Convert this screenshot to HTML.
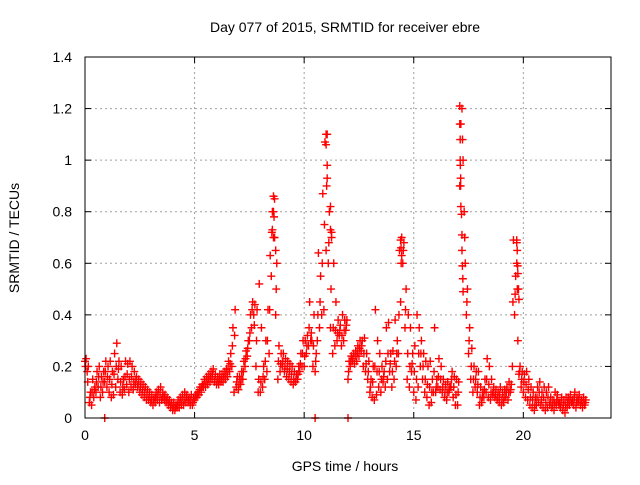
<!DOCTYPE html>
<html><head><meta charset="utf-8"><style>
body{margin:0;background:#fff}
svg text{font-family:"Liberation Sans",sans-serif;font-size:14px;fill:#000}
</style></head><body>
<svg id="c" width="640" height="480">
<text x="345" y="32" text-anchor="middle">Day 077 of 2015, SRMTID for receiver ebre</text>
<text x="345" y="471" text-anchor="middle">GPS time / hours</text>
<text transform="translate(19,238) rotate(-90)" text-anchor="middle">SRMTID / TECUs</text>
<g id="grid"></g><g id="pts"></g>
<rect x="85" y="57" width="526" height="361" fill="none" stroke="#000"/>
</svg>
<script>
const xTicks=[0,5,10,15,20];
const yTicks=[0,0.2,0.4,0.6,0.8,1,1.2,1.4];
const yTickLabels=["0","0.2","0.4","0.6","0.8","1","1.2","1.4"];
const v1=[.22,.18,.06,.05,.08,.10,.12,.08,.10,.14,.12,.10,.08,.09,.12,.15,.10,.09,.11,.13,.10,.12,.11,.13,.12,.10,.09,.08,.07,.07,.06,.05,.06,.07,.06,.07,.08,.06,.05,.04,.03,.03,.04,.04,.05,.05,.06,.06,.05,.05,.07,.08,.09,.10,.12,.12,.13,.14,.15,.14,.13,.13,.14,.14,.15,.16,.18,.20,.10,.12,.11,.13,.15,.20,.24,.30,.35,.40,.20,.10,.10,.12,.15,.18,.25,.55,.70,.40,.15,.18,.20,.18,.16,.15,.14,.13,.14,.15,.18,.20,.20,.25,.28,.30,.20,.18,.30,.35,.40,.42,.65,.60,.35,.25,.28,.30,.32,.28,.30,.34,.15,.20,.22,.21,.22,.24,.26,.20,.18,.15,.10,.08,.07,.09,.12,.10,.14,.12,.15,.18,.12,.15,.20,.25,.45,.60,.35,.15,.12,.18,.10,.07,.12,.20,.15,.10,.08,.05,.06,.10,.10,.12,.11,.10,.08,.07,.10,.12,.08,.05,.05,.90,1.2,.80,.40,.25,.15,.10,.12,.10,.05,.06,.08,.10,.08,.07,.09,.08,.07,.06,.05,.06,.08,.07,.10,.20,.40,.60,.17,.12,.10,.08,.07,.05,.04,.03,.05,.06,.05,.04,.03,.04,.05,.04,.03,.05,.06,.04,.03,.02,.04,.05,.06,.05,.04,.06,.05,.04,.05];
const v2=[.23,.20,.10,.15,.12,.18,.20,.16,.18,.22,.20,.22,.18,.25,.29,.22,.20,.15,.22,.21,.22,.20,.18,.16,.15,.14,.13,.12,.11,.10,.09,.08,.10,.11,.12,.10,.09,.08,.07,.06,.06,.05,.07,.08,.09,.10,.09,.08,.09,.08,.09,.10,.12,.13,.15,.16,.17,.18,.19,.17,.16,.17,.17,.18,.19,.22,.25,.35,.42,.16,.16,.18,.22,.26,.30,.40,.45,.44,.42,.52,.35,.20,.30,.42,.63,.80,.85,.60,.28,.25,.25,.23,.22,.21,.20,.18,.17,.20,.25,.30,.30,.32,.45,.30,.40,.25,.64,.55,.87,1.07,1.1,.80,.72,.60,.45,.38,.36,.40,.38,.38,.22,.24,.25,.26,.28,.30,.30,.31,.25,.22,.15,.20,.42,.30,.25,.20,.18,.35,.37,.25,.26,.38,.30,.65,.70,.68,.50,.40,.35,.25,.28,.40,.35,.30,.25,.22,.20,.22,.15,.35,.15,.23,.20,.15,.13,.14,.12,.18,.16,.15,.14,1.14,1.0,.60,.50,.35,.27,.20,.18,.18,.12,.10,.15,.23,.20,.15,.12,.11,.10,.12,.10,.11,.12,.14,.13,.69,.55,.30,.20,.18,.17,.18,.15,.12,.10,.08,.12,.14,.10,.12,.10,.12,.08,.07,.10,.09,.06,.08,.07,.08,.08,.09,.07,.10,.08,.09,.07,.08,.07];
const v3=[.20,.14,.08,.10,.11,.14,.16,.12,.14,.18,.16,.15,.13,.17,.20,.19,.14,.12,.16,.17,.15,.16,.14,.15,.13,.12,.11,.10,.09,.08,.07,.07,.08,.09,.09,.08,.07,.07,.06,.05,.04,.04,.05,.06,.07,.07,.08,.07,.07,.06,.08,.09,.11,.12,.13,.14,.15,.16,.17,.15,.14,.15,.15,.16,.17,.19,.21,.28,.32,.14,.13,.15,.18,.23,.27,.33,.42,.36,.30,.15,.14,.16,.22,.30,.42,.72,.78,.50,.22,.21,.22,.20,.19,.18,.17,.15,.15,.17,.21,.25,.24,.28,.35,.33,.28,.22,.40,.45,.60,.75,.90,.68,.50,.35,.34,.33,.34,.32,.34,.36,.18,.22,.23,.24,.25,.27,.28,.25,.21,.18,.12,.14,.20,.18,.18,.15,.16,.22,.25,.21,.18,.22,.25,.40,.60,.65,.42,.25,.20,.21,.18,.15,.25,.25,.20,.15,.13,.12,.10,.18,.12,.16,.15,.12,.10,.10,.11,.15,.12,.09,.10,.98,1.08,.70,.45,.30,.20,.15,.15,.13,.08,.08,.11,.15,.13,.10,.10,.09,.08,.09,.07,.08,.10,.10,.11,.45,.48,.50,.18,.15,.14,.13,.11,.08,.07,.05,.08,.10,.07,.08,.06,.08,.06,.05,.06,.07,.05,.06,.05,.05,.06,.07,.06,.08,.06,.07,.06,.06,.06];
const peakTimes=[8.6,8.6,8.55,8.65,8.7,11.0,11.0,11.05,11.05,11.2,11.2,11.25,17.1,17.1,17.12,17.12,17.14,17.14,17.15,17.18,17.2,17.2,17.22,17.24,17.25,14.4,14.42,14.45,19.7,19.7,19.72,19.74,19.75,19.78,19.8,0.9,10.5,12.0];
const peakVals=[.86,.80,.73,.70,.65,1.1,1.06,.98,.93,.82,.73,.70,1.21,1.14,1.08,1.0,.93,.9,.82,.79,.71,.65,.59,.54,.49,.69,.66,.63,.69,.68,.65,.59,.56,.5,.46,0,0,0];
const L=85,R=611,T=57,B=418,XMAX=24,YMAX=1.4;
const X=t=>L+t/XMAX*(R-L), Y=v=>B-v/YMAX*(B-T);
const ns="http://www.w3.org/2000/svg";
const g=document.getElementById('grid'), p=document.getElementById('pts');
function mk(tag,at,par){const e=document.createElementNS(ns,tag);for(const k in at)e.setAttribute(k,at[k]);par.appendChild(e);return e;}
xTicks.forEach(t=>{const x=X(t);
 if(t>0){const l=mk('line',{x1:x,x2:x,y1:T,y2:B,stroke:'#a0a0a0','stroke-dasharray':'2,3'},g);
 
 }
 mk('line',{x1:x,x2:x,y1:B,y2:B-6,stroke:'#000'},g);mk('line',{x1:x,x2:x,y1:T,y2:T+6,stroke:'#000'},g);
 const tx=mk('text',{x:x,y:B+22,'text-anchor':'middle'},g);tx.textContent=t;
 
 });
yTicks.forEach((v,i)=>{const y=Y(v);
 if(v>0&&v<YMAX){const l=mk('line',{x1:L,x2:R,y1:y,y2:y,stroke:'#a0a0a0','stroke-dasharray':'2,3'},g);
 
 }
 mk('line',{x1:L,x2:L+6,y1:y,y2:y,stroke:'#000'},g);mk('line',{x1:R,x2:R-6,y1:y,y2:y,stroke:'#000'},g);
 const tx=mk('text',{x:L-13,y:y+5,'text-anchor':'end'},g);tx.textContent=yTickLabels[i];
 
 });
function plus(t,v){const x=X(t),y=Y(v);
 const e=mk('path',{d:`M${x-4},${y}h8M${x},${y-4}v8`,stroke:'#f00','stroke-width':1.4,fill:'none'},p);
 
 }
v1.forEach((v,i)=>plus(i*0.1,v));
v2.forEach((v,i)=>plus(i*0.1+0.05,v));
v3.forEach((v,i)=>plus(i*0.1+0.025,v));
peakTimes.forEach((t,i)=>plus(t,peakVals[i]));
</script>
</body></html>
